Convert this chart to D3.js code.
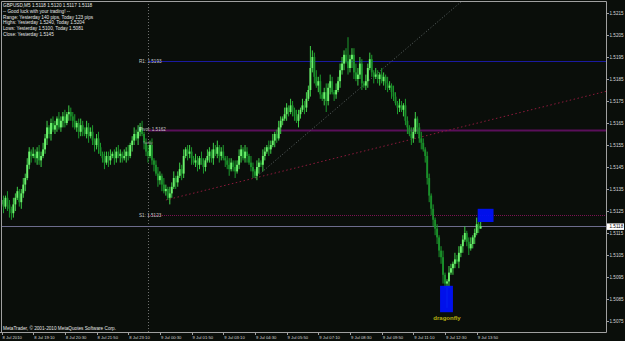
<!DOCTYPE html>
<meta charset="utf-8">
<title>GBPUSD,M5</title>
<style>
    html, body {
        margin: 0;
        padding: 0;
        background: #0a0e0a;
    }

    svg text {
        font-family: "Liberation Sans", Arial, sans-serif;
    }
</style>
<body>
<script src="https://cdn.jsdelivr.net/npm/d3@7"></script>
<script>
    // closes in pips above 1.5000, one per M5 bar from 8 Jul 17:50
    var firstOpen = 128;
    var closes = [
        130, 127, 131, 128, 126, 124, 128, 131, 134, 129, 133, 137, 140, 146, 152, 150,
        151, 149, 152, 148, 150, 153, 158, 163, 160, 165, 162, 164, 167, 163, 166, 168,
        165, 169, 170, 168, 166, 163, 165, 161, 164, 162, 160, 163, 159, 161, 157, 155,
        158, 154, 151, 149, 147, 150, 148, 150, 151, 149, 152, 150, 151, 149, 150, 152,
        150, 155, 157, 160, 158, 161, 163, 160, 156, 152, 150, 155, 148, 146, 142, 139,
        141, 137, 134, 135, 131, 133, 136, 140, 138, 141, 144, 142, 150, 153, 151, 152,
        149, 147, 148, 146, 149, 147, 145, 148, 150, 152, 149, 153, 151, 154, 150, 152,
        149, 148, 146, 144, 147, 145, 143, 146, 150, 153, 149, 152, 150, 147, 145, 143,
        141, 145, 147, 146, 150, 152, 154, 153, 155, 157, 160, 158, 163, 166, 167, 169,
        172, 170, 173, 171, 168, 166, 169, 171, 173, 172, 176, 180, 190, 195, 186, 182,
        184, 178, 176, 179, 175, 181, 184, 179, 178, 180, 184, 189, 192, 196, 193, 190,
        194, 196, 188, 185, 187, 192, 183, 182, 184, 190, 194, 188, 186, 187, 185, 187,
        184, 186, 183, 181, 182, 179, 177, 174, 172, 173, 171, 173, 166, 163, 160, 158,
        161, 167, 163, 158, 156, 153, 150, 140, 132, 126, 121, 117, 113, 107, 104, 96,
        92, 93, 97, 99, 101, 103, 102, 106, 109, 112, 115, 111, 108, 110, 113, 115,
        119, 117, 118
    ];
    // upper / lower shadows in pips
    var upWick = [
        3, 2, 1, 3, 2, 1, 3, 2, 2, 1, 2, 3, 2, 3, 2, 1, 3, 2, 2, 3,
        2, 3, 2, 3, 1, 2, 3, 2, 1, 3, 2, 2, 3, 1, 3, 2, 2, 3, 1, 2,
        3, 2, 1, 3, 2, 2, 3, 1, 2, 3, 2, 1, 3, 2, 2, 3, 1, 2, 2, 3,
        2, 1, 3, 2, 3, 1, 2, 3, 2, 3, 2, 3, 1, 2, 3, 2, 3, 1, 2, 3,
        2, 1, 3, 2, 1, 3, 2, 3, 1, 2, 3, 2, 3, 1, 2, 3, 2, 1, 3, 2,
        1, 3, 2, 1, 3, 2, 1, 3, 2, 3, 1, 2, 3, 1, 2, 3, 2, 1, 3, 2,
        3, 2, 1, 3, 2, 1, 3, 2, 1, 3, 2, 1, 3, 2, 1, 3, 2, 3, 1, 2,
        3, 2, 1, 3, 2, 1, 3, 2, 1, 3, 2, 1, 3, 2, 3, 2, 10, 3, 2, 3,
        2, 3, 1, 2, 4, 2, 3, 2, 1, 3, 2, 3, 3, 2, 3, 11, 2, 3, 3, 4,
        3, 3, 2, 1, 3, 2, 3, 2, 1, 3, 2, 1, 3, 2, 1, 3, 2, 1, 3, 2,
        1, 3, 2, 1, 3, 2, 1, 3, 2, 3, 1, 2, 3, 2, 1, 2, 2, 1, 2, 1,
        2, 1, 2, 3, 1, 1, 3, 2, 1, 3, 2, 3, 1, 2, 3, 1, 2, 3, 1, 2,
        3, 1, 2
    ];
    var dnWick = [
        2, 3, 1, 3, 4, 3, 2, 3, 1, 2, 3, 2, 3, 1, 2, 3, 1, 2, 3, 2,
        3, 1, 2, 3, 2, 3, 1, 2, 3, 1, 2, 3, 2, 1, 3, 2, 3, 1, 2, 3,
        2, 3, 1, 2, 3, 1, 2, 3, 2, 3, 1, 2, 3, 1, 3, 2, 1, 3, 2, 1,
        3, 2, 1, 3, 2, 1, 3, 2, 1, 3, 2, 1, 3, 2, 3, 1, 2, 3, 1, 3,
        2, 3, 1, 2, 1, 3, 2, 1, 3, 2, 1, 3, 2, 1, 3, 2, 3, 1, 2, 3,
        2, 1, 3, 2, 1, 3, 2, 3, 1, 2, 3, 2, 1, 3, 2, 3, 1, 2, 3, 1,
        2, 3, 1, 2, 3, 1, 2, 3, 1, 2, 3, 1, 3, 2, 1, 3, 2, 1, 3, 2,
        1, 3, 2, 1, 3, 2, 1, 3, 2, 1, 3, 2, 1, 3, 2, 1, 3, 2, 3, 1,
        3, 2, 1, 3, 5, 2, 3, 1, 3, 2, 1, 3, 2, 3, 1, 3, 2, 4, 3, 1,
        3, 2, 3, 1, 2, 3, 1, 2, 3, 1, 2, 3, 1, 2, 3, 2, 1, 3, 2, 1,
        3, 2, 1, 3, 2, 3, 1, 3, 2, 1, 3, 2, 3, 1, 3, 3, 3, 3, 3, 3,
        3, 3, 3, 4, 2, 11, 3, 1, 3, 2, 1, 3, 2, 3, 1, 2, 3, 1, 2, 3,
        1, 2, 0
    ];

    var timeTicks = [0, 16, 32, 48, 64, 80, 96, 112, 128, 144, 160, 176, 192, 208, 224, 240];
    var timeLabels = ["8 Jul 2010", "8 Jul 19:10", "8 Jul 20:30", "8 Jul 21:50", "8 Jul 23:10",
        "9 Jul 00:30", "9 Jul 01:50", "9 Jul 03:10", "9 Jul 04:30", "9 Jul 05:50", "9 Jul 07:10",
        "9 Jul 08:30", "9 Jul 09:50", "9 Jul 11:10", "9 Jul 12:30", "9 Jul 13:50"];
    var priceTicks = [1.5075, 1.5085, 1.5095, 1.5105, 1.5115, 1.5125, 1.5135, 1.5145,
        1.5155, 1.5165, 1.5175, 1.5185, 1.5195, 1.5205, 1.5215];

    var pivotNames = ["R1", "Pivot", "S1"];
    var pivotValues = [1.5193, 1.5162, 1.5123];
    var dayStart = 74; // bar of 9 Jul 00:00
    var lastPrice = 1.5118;

    var infoLines = [
        "GBPUSD,M5  1.5118 1.5120 1.5117 1.5118",
        "-- Good luck with your trading! --",
        "Range: Yesterday 140 pips, Today 123 pips",
        "Highs: Yesterday 1.5240, Today 1.5204",
        "Lows: Yesterday 1.5100, Today 1.5081",
        "Close: Yesterday 1.5145"
    ];

    // trend lines: [bar, price] anchor pairs, drawn as rays to the right
    var redTrend = [[83, 1.5130], [173, 1.5150]];
    var grayTrend = [[128, 1.5140], [154, 1.5160]];
    // rectangles: [bar from, bar to, price top, price bottom]
    var boxes = [[221.5, 228, 1.5091, 1.5079], [240.5, 248.5, 1.5126, 1.5120]];

    var W = 625, H = 341;
    var right = 606, bottom = 332;

    var x = d3.scaleLinear().domain([0, 240]).range([1.5, 476.7]);
    var y = d3.scaleLinear().domain([1.5075, 1.5215]).range([321, 13]);

    var bars = closes.map(function (c, i) {
        var o = i === 0 ? firstOpen : closes[i - 1];
        return {
            i: i,
            o: 1.5 + o / 10000,
            c: 1.5 + c / 10000,
            h: 1.5 + (Math.max(o, c) + upWick[i]) / 10000,
            l: 1.5 + (Math.min(o, c) - dnWick[i]) / 10000
        };
    });

    var svg = d3.select("body").append("svg")
        .attr("width", W)
        .attr("height", H);

    svg.append("rect").attr("width", W).attr("height", H).attr("fill", "#0a0e0a");

    svg.append("clipPath").attr("id", "plot")
        .append("rect").attr("x", 1).attr("y", 1).attr("width", right - 1).attr("height", bottom - 1);

    var plot = svg.append("g").attr("clip-path", "url(#plot)");

    // day separator
    plot.append("line")
        .attr("x1", x(dayStart) + 0.5).attr("x2", x(dayStart) + 0.5)
        .attr("y1", 1).attr("y2", bottom)
        .attr("stroke", "#8a8a8a").attr("stroke-width", 0.8).attr("stroke-dasharray", "1,2");

    // pivot levels
    var levelStyle = [
        {color: "#1a1aa0", width: 1, dash: null},
        {color: "#5a0f5a", width: 2, dash: null},
        {color: "#7e1454", width: 1, dash: "1,1"}
    ];
    pivotValues.forEach(function (v, k) {
        plot.append("line")
            .attr("x1", x(dayStart)).attr("x2", right)
            .attr("y1", Math.round(y(v)) + 0.5).attr("y2", Math.round(y(v)) + 0.5)
            .attr("stroke", levelStyle[k].color)
            .attr("stroke-width", levelStyle[k].width)
            .attr("stroke-dasharray", levelStyle[k].dash);
    });

    // current price line
    plot.append("line")
        .attr("x1", 0).attr("x2", right)
        .attr("y1", Math.round(y(lastPrice)) + 0.5).attr("y2", Math.round(y(lastPrice)) + 0.5)
        .attr("stroke", "#6c6c8c");

    function ray(pts, color, dash) {
        var x0 = x(pts[0][0]), y0 = y(pts[0][1]);
        var x1 = x(pts[1][0]), y1 = y(pts[1][1]);
        var k = (y1 - y0) / (x1 - x0);
        plot.append("line")
            .attr("x1", x0).attr("y1", y0)
            .attr("x2", right).attr("y2", y0 + k * (right - x0))
            .attr("stroke", color).attr("stroke-width", 1)
            .attr("stroke-dasharray", dash);
    }

    ray(redTrend, "#8e1a3c", "1.5,2.5");
    ray(grayTrend, "#5e6666", "1,2");

    // candles
    var candle = plot.selectAll("g.bar")
        .data(bars)
        .enter()
        .append("g")
        .attr("class", "bar");

    candle.append("line")
        .attr("x1", function (d) { return x(d.i); })
        .attr("x2", function (d) { return x(d.i); })
        .attr("y1", function (d) { return y(d.h); })
        .attr("y2", function (d) { return y(d.l); })
        .attr("stroke", function (d) { return d.c >= d.o ? "#3fd048" : "#1c9a2c"; })
        .attr("stroke-width", 1);

    candle.append("rect")
        .attr("x", function (d) { return x(d.i) - 0.95; })
        .attr("width", 1.9)
        .attr("y", function (d) { return y(Math.max(d.o, d.c)); })
        .attr("height", function (d) { return Math.max(0.8, Math.abs(y(d.o) - y(d.c))); })
        .attr("fill", function (d) { return d.c >= d.o ? "#6cf06c" : "#1a8f2a"; });

    // pattern boxes
    plot.selectAll("rect.box")
        .data(boxes)
        .enter()
        .append("rect")
        .attr("class", "box")
        .attr("x", function (d) { return x(d[0]); })
        .attr("width", function (d) { return x(d[1]) - x(d[0]); })
        .attr("y", function (d) { return y(d[2]); })
        .attr("height", function (d) { return y(d[3]) - y(d[2]); })
        .attr("fill", "#0010ff")
        .attr("fill-opacity", 0.92);

    svg.append("text")
        .attr("x", x(225)).attr("y", 319.5)
        .attr("text-anchor", "middle")
        .attr("fill", "#b8b010")
        .attr("font-family", "'Liberation Serif', serif")
        .attr("font-weight", "bold")
        .attr("font-size", "6px")
        .text("dragonfly");

    // pivot labels
    pivotValues.forEach(function (v, k) {
        svg.append("text")
            .attr("x", x(dayStart) - 9)
            .attr("y", y(v) + 1.6)
            .attr("fill", "#c8c8c8")
            .attr("font-size", "4.6px")
            .text(pivotNames[k] + ": " + v.toFixed(4));
    });
    svg.append("text")
        .attr("x", x(dayStart) - 5).attr("y", 144)
        .attr("fill", "#909090").attr("font-size", "3.6px")
        .text("Today");

    // frame
    svg.append("path")
        .attr("d", "M1.5," + bottom + "V1.5H" + (right + 0.5) + "V" + (bottom + 0.5) + "H0")
        .attr("fill", "none").attr("stroke", "#a0a0a0");

    // price axis
    var pa = svg.append("g");
    pa.selectAll("line").data(priceTicks).enter().append("line")
        .attr("x1", right).attr("x2", right + 3)
        .attr("y1", function (d) { return Math.round(y(d)) + 0.5; })
        .attr("y2", function (d) { return Math.round(y(d)) + 0.5; })
        .attr("stroke", "#a0a0a0");
    pa.selectAll("text").data(priceTicks).enter().append("text")
        .attr("x", right + 3.5)
        .attr("y", function (d) { return y(d) + 1.7; })
        .attr("fill", "#d8d8d8").attr("font-size", "4.6px")
        .text(function (d) { return d.toFixed(4); });

    svg.append("rect")
        .attr("x", right + 1).attr("y", y(lastPrice) - 3)
        .attr("width", 17).attr("height", 6.5)
        .attr("fill", "#ffffff");
    svg.append("text")
        .attr("x", right + 3.5).attr("y", y(lastPrice) + 1.7)
        .attr("fill", "#000").attr("font-size", "4.6px")
        .text(lastPrice.toFixed(4));

    // time axis
    var ta = svg.append("g");
    ta.selectAll("line").data(timeTicks).enter().append("line")
        .attr("x1", function (d) { return Math.round(x(d)) + 0.5; })
        .attr("x2", function (d) { return Math.round(x(d)) + 0.5; })
        .attr("y1", bottom).attr("y2", bottom + 3)
        .attr("stroke", "#a0a0a0");
    ta.selectAll("text").data(timeTicks).enter().append("text")
        .attr("x", function (d) { return x(d) + 1; })
        .attr("y", 339)
        .attr("fill", "#d8d8d8").attr("font-size", "4.2px")
        .text(function (d, i) { return timeLabels[i]; });

    // info block
    svg.selectAll("text.info").data(infoLines).enter().append("text")
        .attr("class", "info")
        .attr("x", 3)
        .attr("y", function (d, i) { return 7 + i * 5.75; })
        .attr("fill", "#e6e6e6").attr("font-size", "4.7px")
        .text(function (d) { return d; });

    svg.append("text")
        .attr("x", 3).attr("y", 330)
        .attr("fill", "#e6e6e6").attr("font-size", "4.7px")
        .text("MetaTrader, \u00a9 2001-2010 MetaQuotes Software Corp.");
</script>
